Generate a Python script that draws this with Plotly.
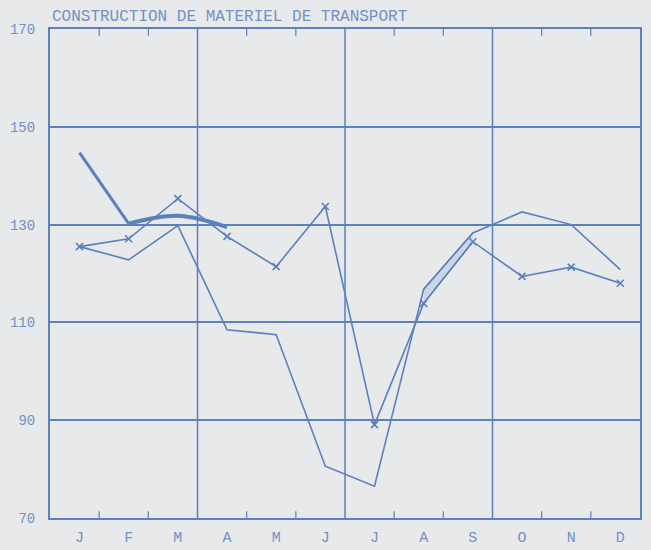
import plotly.graph_objects as go

months = ["J", "F", "M", "A", "M", "J", "J", "A", "S", "O", "N", "D"]
x_idx = list(range(12))
y_ticks = [70, 90, 110, 130, 150, 170]

current_year = [125.5, 122.8, 129.8, 108.5, 107.5, 80.6, 76.5, 116.8, 128.3, 132.6, 130.0, 120.8]
previous_year = [125.5, 127.1, 135.3, 127.6, 121.4, 133.7, 89.1, 113.9, 126.5, 119.4, 121.3, 118.0]
thick_line = [144.7, 130.2, 131.8, 129.5]

title = "CONSTRUCTION DE MATERIEL DE TRANSPORT"

LINE = "#5a80bf"
TEXT = "#7291c6"
BG = "#e7e9eb"
FONT = "Liberation Mono"

fig = go.Figure()

# shaded band between the two series (Aug - Sep)
fig.add_trace(go.Scatter(x=x_idx[7:9], y=previous_year[7:9], mode="lines",
                         line=dict(color=LINE, width=1.2), showlegend=False, hoverinfo="skip"))
fig.add_trace(go.Scatter(x=x_idx[7:9], y=current_year[7:9], mode="lines",
                         line=dict(color=LINE, width=1.2), fill="tonexty",
                         fillcolor="rgba(120,160,215,0.25)", showlegend=False, hoverinfo="skip"))

fig.add_trace(go.Scatter(x=x_idx, y=current_year, mode="lines",
                         line=dict(color=LINE, width=1.6), showlegend=False))
fig.add_trace(go.Scatter(x=x_idx, y=previous_year, mode="lines+markers",
                         line=dict(color=LINE, width=1.6),
                         marker=dict(symbol="x-thin", size=7, line=dict(color=LINE, width=1.6)),
                         showlegend=False))
n = len(thick_line)
fig.add_trace(go.Scatter(x=x_idx[:2], y=thick_line[:2], mode="lines",
                         line=dict(color=LINE, width=3), showlegend=False))
fig.add_trace(go.Scatter(x=x_idx[1:n], y=thick_line[1:n], mode="lines",
                         line=dict(color=LINE, width=4, shape="spline", smoothing=1.0),
                         showlegend=False))

# quarter separators and small boundary ticks
shapes = []
for b in [2.4, 5.4, 8.4]:
    shapes.append(dict(type="line", xref="x", yref="y domain", x0=b, x1=b, y0=0, y1=1,
                       line=dict(color=LINE, width=1.5), layer="below"))
for b in [0.4, 1.4, 3.4, 4.4, 6.4, 7.4, 9.4, 10.4]:
    shapes.append(dict(type="line", xref="x", yref="y domain", x0=b, x1=b, y0=0, y1=0.014,
                       line=dict(color=LINE, width=1.2)))
    shapes.append(dict(type="line", xref="x", yref="y domain", x0=b, x1=b, y0=1, y1=0.986,
                       line=dict(color=LINE, width=1.2)))

fig.update_layout(
    width=651, height=550,
    margin=dict(l=50, r=11, t=29, b=32),
    paper_bgcolor=BG, plot_bgcolor=BG,
    font=dict(family=FONT, color=TEXT, size=14),
    shapes=shapes,
    annotations=[dict(text=title, xref="paper", yref="paper", x=0, y=1,
                      xanchor="left", yanchor="bottom", yshift=1, showarrow=False,
                      font=dict(family=FONT, size=16, color=TEXT))],
    xaxis=dict(range=[-0.6, 11.4], tickvals=x_idx, ticktext=months, showgrid=False,
               zeroline=False, showline=True, mirror=True, linecolor=LINE, linewidth=2,
               ticks="", tickfont=dict(size=15, color=TEXT), ticklabelstandoff=4,
               automargin=False),
    yaxis=dict(range=[70, 170], tickvals=y_ticks, showgrid=True, gridcolor=LINE,
               gridwidth=2, zeroline=False, showline=True, mirror=True, linecolor=LINE,
               linewidth=2, ticks="", tickfont=dict(size=14, color=TEXT),
               ticklabelstandoff=10, automargin=False),
)

fig.write_html(
    "out.html",
    config={"displayModeBar": False},
    post_script="document.body.style.margin='0';document.body.style.background='#e7e9eb';"
                "document.body.style.overflow='hidden';",
)
